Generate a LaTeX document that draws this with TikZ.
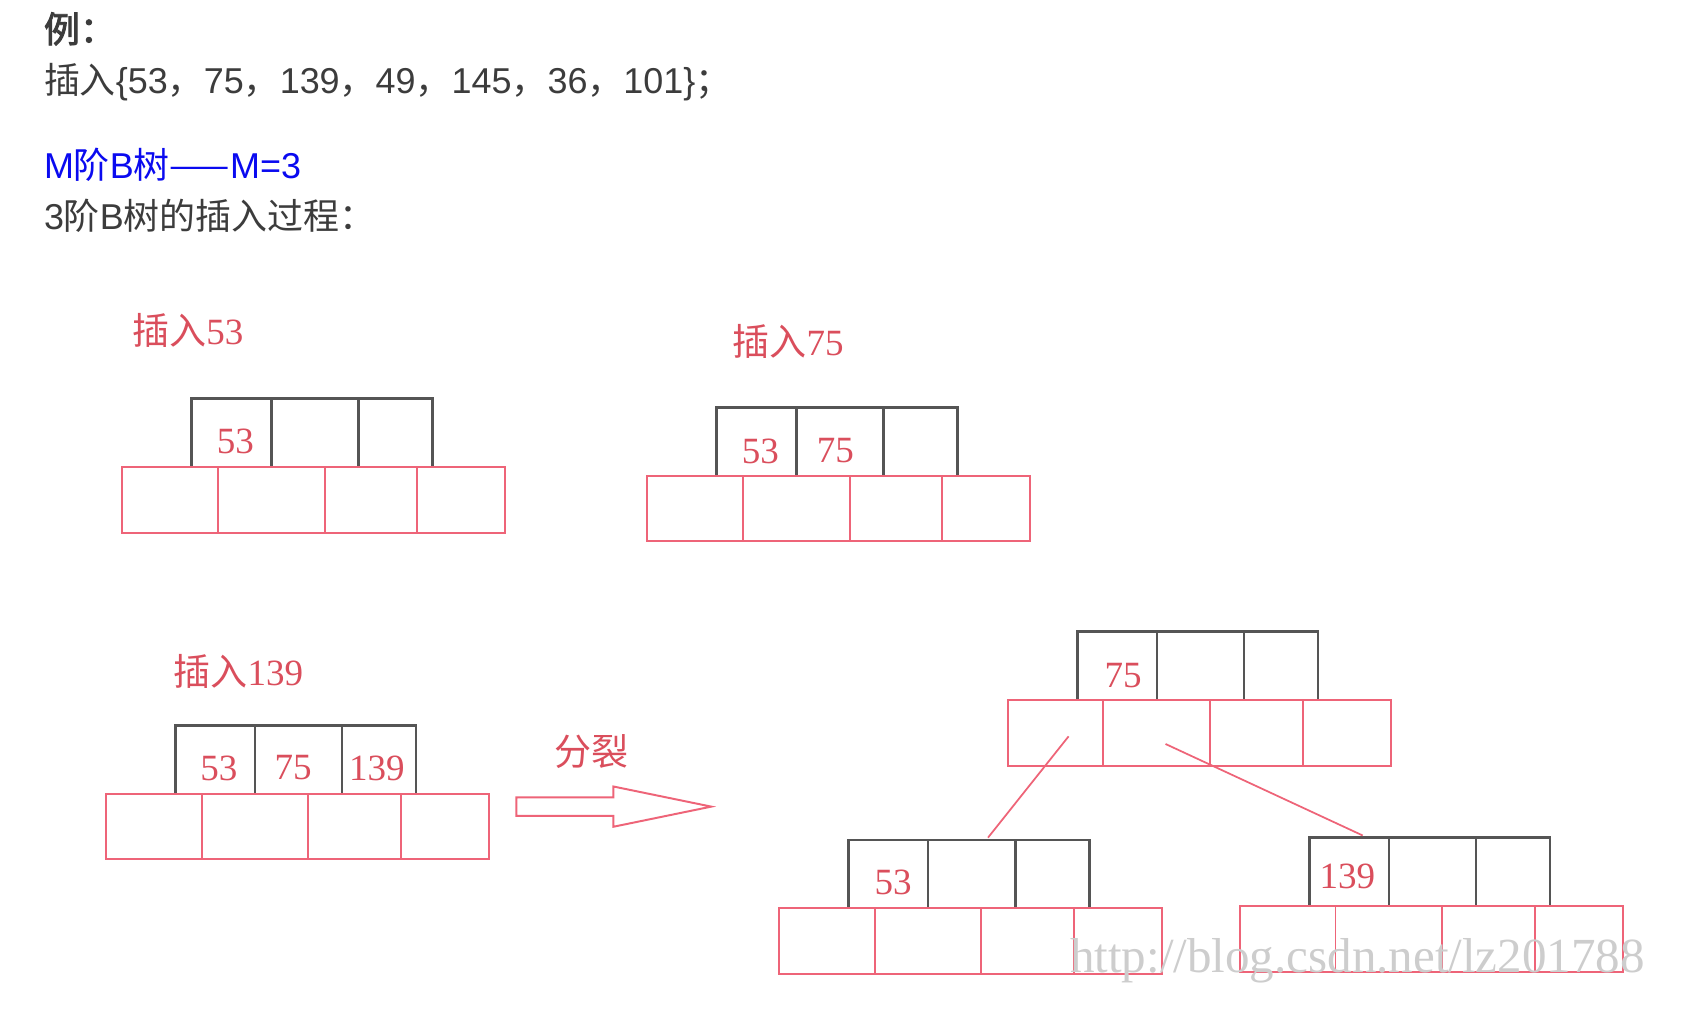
\documentclass[tikz,border=0pt]{standalone}
\usepackage{fontspec}
\setmainfont{Liberation Serif}
\newfontfamily\cjk{Noto Sans CJK SC}
\newfontfamily\cjkbold[FakeBold=2.5]{Noto Sans CJK SC}
\newfontfamily\hsans{Liberation Sans}
\definecolor{hdr}{RGB}{60,60,60}
\definecolor{hblue}{RGB}{10,10,240}
\definecolor{rtext}{RGB}{218,78,92}
\definecolor{rline}{RGB}{238,100,120}
\definecolor{kline}{RGB}{85,85,85}
\definecolor{wm}{RGB}{205,205,205}
\tikzset{
  hdrtext/.style={anchor=base west, inner sep=0, text=hdr, font=\hsans\fontsize{16.5}{20}\selectfont},
  steplabel/.style={anchor=base west, inner sep=0, text=rtext, font=\fontsize{17}{20}\selectfont},
  keynum/.style={inner sep=0, text=rtext, font=\fontsize{17}{20}\selectfont},
  redbox/.style={draw=rline, line width=0.9pt},
  keybox/.style={draw=kline, line width=1.2pt},
  link/.style={draw=rline, line width=0.8pt},
  hollowarrow/.style={draw=rline, line width=0.9pt, line join=miter},
  wmtext/.style={anchor=base west, inner sep=0, text=wm, font=\fontsize{22.5}{26}\selectfont},
}
\newcommand{\btreenode}[3]{%
  \draw[keybox] (#2+64,#3) -- ++(0,-63) -- ++(221,0) -- ++(0,63);
  \draw[keybox] (#2+137,#3) -- ++(0,-63) (#2+217,#3) -- ++(0,-63);
  \draw[redbox] (#2,#3) rectangle ++(352,60);
  \draw[redbox] (#2+88,#3) -- ++(0,60) (#2+186,#3) -- ++(0,60) (#2+271,#3) -- ++(0,60);
  \coordinate (#1) at (#2,#3);
}
\newcommand{\cc}[1]{{\cjk #1}}
\begin{document}
\begin{tikzpicture}[x=0.5pt, y=-0.5pt]
\useasboundingbox (0,0) rectangle (1568,931);
\fill[white] (0,0) rectangle (1568,931);

% header
\node[hdrtext, font=\cjkbold\fontsize{16.5}{20}\selectfont] (ex) at (40,39) {例：};
\node[hdrtext] (seq) at (40,86) {\cc{插入}\{53\cc{，}75\cc{，}139\cc{，}49\cc{，}145\cc{，}36\cc{，}101\}\cc{；}};
\node[hdrtext, text=hblue] (mb) at (40,164) {M\cc{阶}B\cc{树——}M=3};
\node[hdrtext] (proc) at (40,211) {3\cc{阶}B\cc{树的插入过程：}};

% step labels
\node[steplabel] (l1) at (121,316) {\cc{插入}53};
\node[steplabel] (l2) at (672,326) {\cc{插入}75};
\node[steplabel] (l3) at (159,629) {\cc{插入}139};
\node[steplabel] (split) at (509,703) {\cc{分裂}};

% B-tree nodes
\btreenode{b1}{112}{429}
\btreenode{b2}{594}{437}
\btreenode{b3}{97}{729}
\btreenode{root}{925}{643}
\btreenode{lc}{715}{834}
\btreenode{rc}{1138}{832}

% keys
\node[keynum] (k1a) at (216,405) {53};
\node[keynum] (k2a) at (698,414) {53};
\node[keynum] (k2b) at (767,414) {75};
\node[keynum] (k3a) at (201,705) {53};
\node[keynum] (k3b) at (269,705) {75};
\node[keynum] (k3c) at (346,705) {139};
\node[keynum] (kra) at (1031,620) {75};
\node[keynum] (kla) at (820,810) {53};
\node[keynum] (kca) at (1237,805) {139};

% split arrow
\draw[hollowarrow] (474,732) -- (563,732) -- (563,722) -- (653,740.5) -- (563,759) -- (563,749) -- (474,749) -- cycle;

% links
\coordinate (rootL) at (981,676);
\coordinate (rootR) at (1070,683);
\coordinate (lcTop) at (907,769);
\coordinate (rcTop) at (1251,767);
\draw[link] (rootL) -- (lcTop);
\draw[link] (rootR) -- (rcTop);

% watermark
\node[wmtext] (wmark) at (982,893) {http://blog.csdn.net/lz201788};
\end{tikzpicture}
\end{document}
